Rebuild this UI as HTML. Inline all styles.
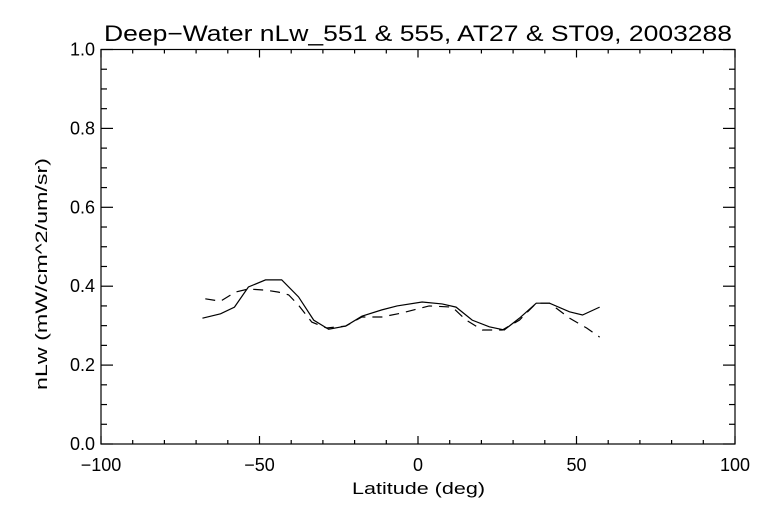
<!DOCTYPE html>
<html><head><meta charset="utf-8"><style>
body{margin:0;background:#fff}
svg text{font-family:"Liberation Sans",sans-serif;fill:#000}
</style></head><body>
<svg id="c" width="768" height="512" xmlns="http://www.w3.org/2000/svg">
<text x="104" y="41" font-size="22" textLength="628" lengthAdjust="spacingAndGlyphs">Deep−Water nLw_551 &amp; 555, AT27 &amp; ST09, 2003288</text>
<text x="352" y="494" font-size="17" textLength="133" lengthAdjust="spacingAndGlyphs">Latitude (deg)</text>
<text transform="translate(47,390) rotate(-90)" font-size="17" textLength="232" lengthAdjust="spacingAndGlyphs">nLw (mW/cm^2/um/sr)</text>
<rect x="101" y="49.5" width="634" height="394.5" fill="none" stroke="#000" stroke-width="1.2"/>
<g id="ax"></g>
<g id="marks"></g>
</svg>
<script>
const lat=[-68,-62.3,-57.9,-53.5,-48.1,-43,-37.7,-32.9,-28.2,-22.8,-17.7,-11.4,-6.6,1.3,7.6,12,17.1,22.5,27.2,32,37.3,41.5,47.8,51.9,57.3];
const solid=[.319,.330,.347,.398,.416,.416,.373,.314,.291,.299,.324,.340,.350,.360,.355,.347,.314,.297,.289,.319,.357,.357,.335,.327,.347];
const lat2=[-67.1,-62.3,-57.6,-53.5,-48.1,-44,-40.8,-37.7,-33.5,-28.8,-22.8,-17.7,-11.4,-5.1,3.5,10.8,15.2,20.3,26.6,32,37.3,41.5,47.8,53.2,57.3];
const dashed=[.368,.362,.385,.393,.390,.385,.378,.352,.309,.294,.299,.322,.322,.332,.350,.347,.314,.289,.289,.314,.357,.357,.319,.294,.271];
const xTicks=[-100,-50,0,50,100];
const yTicks=[0,0.2,0.4,0.6,0.8,1.0];
const X=v=>101+(v+100)/200*634, Y=v=>444-v*394.5;
const NS="http://www.w3.org/2000/svg";
const ax=document.getElementById('ax'), mk=document.getElementById('marks');
function ln(p,x1,y1,x2,y2){const l=document.createElementNS(NS,'line');l.setAttribute('x1',x1);l.setAttribute('y1',y1);l.setAttribute('x2',x2);l.setAttribute('y2',y2);l.setAttribute('stroke','#000');l.setAttribute('stroke-width','1.2');p.appendChild(l);return l;}
for(let v=-100;v<=100;v+=10){const maj=v%50===0,L=maj?8:4,x=X(v);
 let a=ln(ax,x,444,x,444-L);
 let b=ln(ax,x,49.5,x,49.5+L);}
for(let i=0;i<=20;i++){const v=i*0.05,maj=i%4===0,L=maj?12:6,y=Y(v);
 let a=ln(ax,101,y,101+L,y);
 let b=ln(ax,735,y,735-L,y);}
xTicks.forEach(v=>{const t=document.createElementNS(NS,'text');t.setAttribute('x',X(v));t.setAttribute('y',471);t.setAttribute('font-size','18');t.setAttribute('text-anchor','middle');t.textContent=v<0?'−'+(-v):v;


ax.appendChild(t);});
yTicks.forEach(v=>{const t=document.createElementNS(NS,'text');t.setAttribute('x',95);t.setAttribute('y',Y(v)+6);t.setAttribute('font-size','18');t.setAttribute('text-anchor','end');t.textContent=v.toFixed(1);


ax.appendChild(t);});
function line(xs,ys,dash,name){const p=document.createElementNS(NS,'polyline');p.setAttribute('points',xs.map((x,i)=>X(x)+','+Y(ys[i])).join(' '));p.setAttribute('fill','none');p.setAttribute('stroke','#000');p.setAttribute('stroke-width','1.2');if(dash)p.setAttribute('stroke-dasharray','10,7');


mk.appendChild(p);}
line(lat,solid,false,'series-nlw-551');
line(lat2,dashed,true,'series-nlw-555');
</script>
</body></html>
